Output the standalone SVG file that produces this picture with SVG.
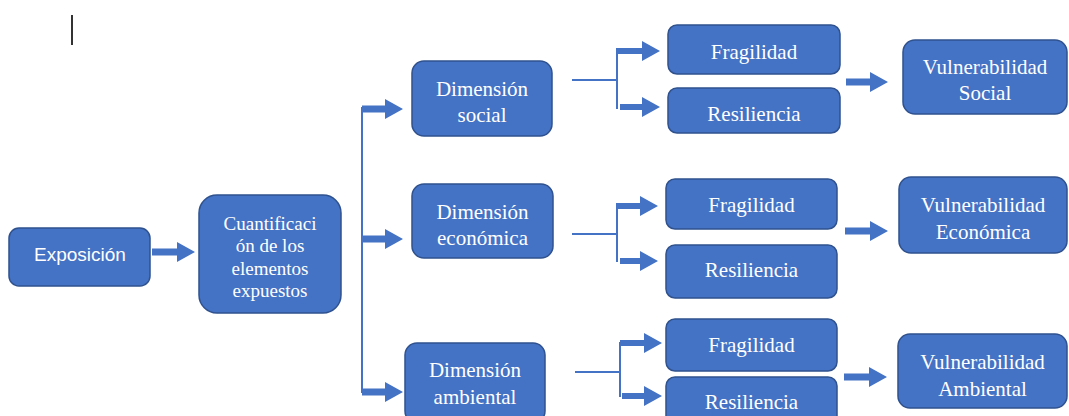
<svg xmlns="http://www.w3.org/2000/svg" width="1069" height="416" viewBox="0 0 1069 416">
<style>
.box{fill:#4472C4;stroke:#2F528F;stroke-width:1.5}
.t{fill:#fff;font-family:"Liberation Serif","Times New Roman",serif;font-size:21px;text-anchor:middle}
.c{font-size:19px}
.s{fill:#fff;font-family:"Liberation Sans",Arial,sans-serif;font-size:19px;text-anchor:middle}
.ln{stroke:#4472C4;stroke-width:2;fill:none}
.ar{fill:#4472C4}
</style>
<rect width="1069" height="416" fill="#fff"/>
<line x1="72" y1="15" x2="72" y2="45" stroke="#333" stroke-width="2"/>
<g id="connectors">
<path class="ln" d="M362 107V393"/>
<path class="ln" d="M572 80H617M617 48V109"/>
<path class="ln" d="M572 234H617M617 203V262"/>
<path class="ln" d="M575 372H620M620 342V397"/>
<path class="ar" d="M152 248.5H177V242L195 252L177 262V255.5H152Z"/>
<path class="ar" d="M362 105.5H385V99L403 109L385 119V112.5H362Z"/>
<path class="ar" d="M362 235.5H385V229L403 239L385 249V242.5H362Z"/>
<path class="ar" d="M362 388.5H385V382L403 392L385 402V395.5H362Z"/>
<path class="ar" d="M617 48H642V41L660 51L642 61V54H617Z"/>
<path class="ar" d="M620 104H642V97L660 107L642 117V110H620Z"/>
<path class="ar" d="M617 203H640V196L658 206L640 216V209H617Z"/>
<path class="ar" d="M620 258H640V251L658 261L640 271V264H620Z"/>
<path class="ar" d="M620 340H644V333L662 343L644 353V346H620Z"/>
<path class="ar" d="M622 393H644V386L662 396L644 406V399H622Z"/>
<path class="ar" d="M846 78.5H870V72L888 82L870 92V85.5H846Z"/>
<path class="ar" d="M845 227.5H870V221L888 231L870 241V234.5H845Z"/>
<path class="ar" d="M844 373.5H869V367L887 377L869 387V380.5H844Z"/>
</g>
<g id="exposicion"><rect class="box" x="9" y="228" width="141" height="58" rx="10"/><text class="s" x="80" y="261">Exposición</text></g>
<g id="cuantificacion"><rect class="box" x="199" y="195" width="142" height="118" rx="18"/>
<text class="t c" x="270" y="230">Cuantificaci</text><text class="t c" x="270" y="252">ón de los</text><text class="t c" x="270" y="275">elementos</text><text class="t c" x="270" y="297">expuestos</text></g>
<g id="dim-social"><rect class="box" x="412" y="61" width="140" height="75" rx="12"/><text class="t" x="482" y="96">Dimensión</text><text class="t" x="482" y="122">social</text></g>
<g id="dim-economica"><rect class="box" x="412" y="184" width="141" height="74" rx="12"/><text class="t" x="482.5" y="219">Dimensión</text><text class="t" x="482.5" y="245">económica</text></g>
<g id="dim-ambiental"><rect class="box" x="405" y="343" width="140" height="80" rx="12"/><text class="t" x="475" y="377">Dimensión</text><text class="t" x="475" y="404">ambiental</text></g>
<g id="frag-social"><rect class="box" x="668" y="25" width="172" height="49" rx="9"/><text class="t" x="754" y="59">Fragilidad</text></g>
<g id="resil-social"><rect class="box" x="668" y="88" width="172" height="45" rx="9"/><text class="t" x="754" y="121">Resiliencia</text></g>
<g id="frag-economica"><rect class="box" x="666" y="179" width="171" height="50" rx="9"/><text class="t" x="751.5" y="212">Fragilidad</text></g>
<g id="resil-economica"><rect class="box" x="666" y="245" width="171" height="53" rx="9"/><text class="t" x="751.5" y="277">Resiliencia</text></g>
<g id="frag-ambiental"><rect class="box" x="666" y="319" width="171" height="52" rx="9"/><text class="t" x="751.5" y="352">Fragilidad</text></g>
<g id="resil-ambiental"><rect class="box" x="666" y="377" width="171" height="50" rx="9"/><text class="t" x="751.5" y="409">Resiliencia</text></g>
<g id="vuln-social"><rect class="box" x="903" y="40" width="164" height="74" rx="12"/><text class="t" x="985" y="74">Vulnerabilidad</text><text class="t" x="985" y="100">Social</text></g>
<g id="vuln-economica"><rect class="box" x="899" y="177" width="168" height="76" rx="12"/><text class="t" x="983" y="212">Vulnerabilidad</text><text class="t" x="983" y="239">Económica</text></g>
<g id="vuln-ambiental"><rect class="box" x="898" y="334" width="169" height="74" rx="12"/><text class="t" x="982.5" y="369">Vulnerabilidad</text><text class="t" x="982.5" y="396">Ambiental</text></g>
</svg>
